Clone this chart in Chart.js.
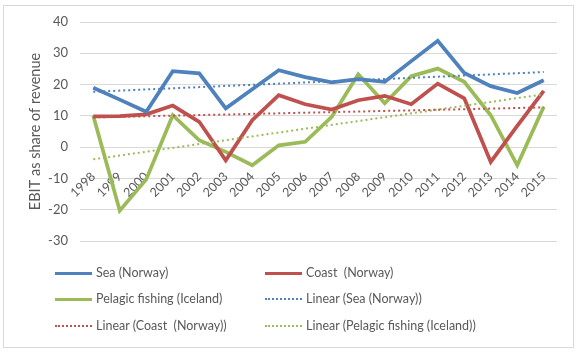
<!DOCTYPE html>
<html><head><meta charset="utf-8">
<script src="https://cdn.jsdelivr.net/npm/chart.js@4/dist/chart.umd.min.js"></script>
<style>
html,body{margin:0;padding:0;background:#fff;}
#wrap{position:relative;width:580px;height:353px;overflow:hidden;}
#frame{position:absolute;left:3px;top:5px;width:571px;height:343px;border:1px solid #d9d9d9;box-sizing:border-box;}
#c{position:absolute;left:0;top:0;}
.li{position:absolute;font-family:Lato,"Liberation Sans",sans-serif;font-size:12.5px;color:#595959;white-space:pre;line-height:16px;}
.sw{position:absolute;width:37px;}
</style></head>
<body>
<div id="wrap">
<div id="frame"></div>
<canvas id="c" width="580" height="353"></canvas>
<div id="legend"></div>
</div>
<script>
const years = ['1998','1999','2000','2001','2002','2003','2004','2005','2006','2007','2008','2009','2010','2011','2012','2013','2014','2015'];
const seaNorway = [19.0,15.2,11.3,24.3,23.6,12.4,18.5,24.6,22.4,20.7,21.7,20.9,27.5,34.0,23.7,19.5,17.3,21.4];
const coastNorway = [9.8,9.9,10.5,13.3,8.1,-4.2,8.6,16.6,13.7,12.0,15.0,16.4,13.7,20.3,15.6,-4.7,6.8,18.0];
const pelagicIceland = [10.0,-20.3,-10.3,10.2,2.2,-1.5,-5.8,0.6,1.7,9.7,23.3,14.0,22.7,25.1,20.9,10.2,-5.8,12.9];
// linear trend lines: start (1998) and end (2015) values
const seaTrend = [17.7,null,null,null,null,null,null,null,null,null,null,null,null,null,null,null,null,24.0];
const coastTrend = [9.5,null,null,null,null,null,null,null,null,null,null,null,null,null,null,null,null,12.7];
const pelagicTrend = [-3.9,null,null,null,null,null,null,null,null,null,null,null,null,null,null,null,null,16.9];
const yTicks = [-30,-20,-10,0,10,20,30,40];
const seriesNames = ['Sea (Norway)','Coast  (Norway)','Pelagic fishing (Iceland)','Linear (Sea (Norway))','Linear (Coast  (Norway))','Linear (Pelagic fishing (Iceland))'];

const BLUE='#4F81BD', RED='#C0504D', GREEN='#9BBB59';
const solid = (label,data,color)=>({label,data,borderColor:color,backgroundColor:color,borderWidth:3.75,pointRadius:0,tension:0,fill:false,borderJoinStyle:'miter'});
const dotted = (label,data,color)=>({label,data,borderColor:color,backgroundColor:color,borderWidth:2,borderDash:[2,3],pointRadius:0,spanGaps:true,fill:false});

const chart = new Chart(document.getElementById('c'),{
  type:'line',
  data:{labels:years,datasets:[
    dotted(seriesNames[3],seaTrend,BLUE),
    dotted(seriesNames[4],coastTrend,RED),
    dotted(seriesNames[5],pelagicTrend,GREEN),
    solid(seriesNames[0],seaNorway,BLUE),
    solid(seriesNames[1],coastNorway,RED),
    solid(seriesNames[2],pelagicIceland,GREEN)
  ]},
  options:{
    responsive:false,animation:false,
    layout:{padding:{left:0,top:22,right:23,bottom:112}},
    plugins:{legend:{display:false},tooltip:{enabled:false}},
    scales:{
      x:{type:'category',position:{y:0},offset:true,
        grid:{display:false,drawTicks:false},border:{display:false},
        ticks:{autoSkip:false,minRotation:45,maxRotation:45,padding:22,color:'#595959',font:{family:'Lato',size:12.5}}},
      y:{min:-30,max:40,
        afterFit:s=>{s.width=80;},
        afterBuildTicks:s=>{s.ticks=yTicks.map(v=>({value:v}));},
        grid:{color:'#d9d9d9',lineWidth:1,drawTicks:false},border:{display:false},
        ticks:{padding:12,color:'#595959',font:{family:'Lato',size:13}},
        title:{display:true,text:'EBIT as share of revenue',color:'#595959',font:{family:'Lato',size:14.5},padding:{top:27,bottom:0}}}
    }
  }
});

// HTML legend built from the chart's datasets
const order=[3,4,5,0,1,2];
const pos=[[55,273],[265,273],[55,299],[265,299],[55,326],[265,326]];
const leg=document.getElementById('legend');
order.forEach((di,i)=>{
  const ds=chart.data.datasets[di];
  const [x,y]=pos[i];
  const sw=document.createElement('div');
  sw.className='sw';
  sw.style.left=x+'px';
  if(ds.borderDash){sw.style.top=(y-1)+'px';sw.style.borderTop='2px dotted '+ds.borderColor;}
  else{sw.style.top=(y-1.5)+'px';sw.style.height='3px';sw.style.background=ds.borderColor;}
  leg.appendChild(sw);
  const t=document.createElement('div');
  t.className='li';t.textContent=ds.label;
  t.style.left=(x+41)+'px';t.style.top=(y-8)+'px';
  leg.appendChild(t);
});
</script>
</body></html>
